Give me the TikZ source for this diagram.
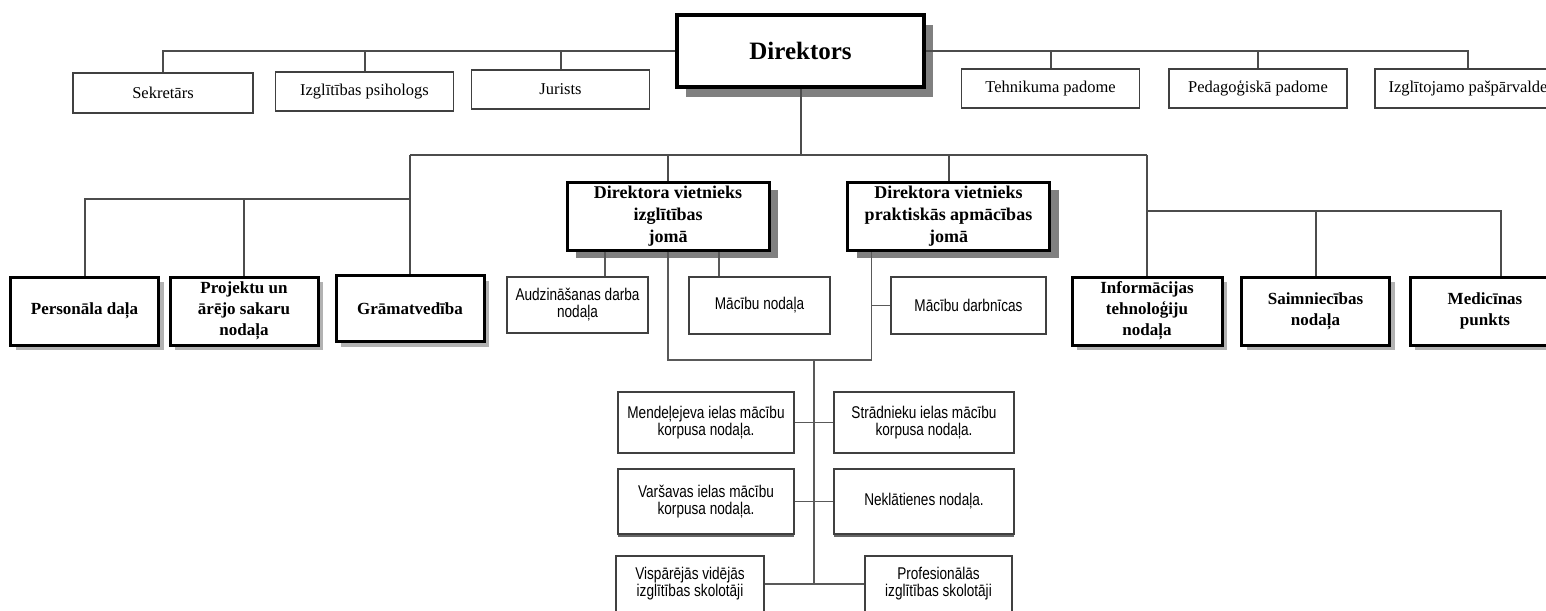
\documentclass[tikz,border=0pt]{standalone}
\usepackage{fontspec}
\setmainfont{Liberation Serif}
\newfontfamily\narrowsans[FakeStretch=0.8]{Liberation Sans}
\usetikzlibrary{calc, shadows, positioning}

\begin{document}
\begin{tikzpicture}[x=1pt, y=-1pt]

% TikZ styles
\tikzset{
  chief/.style={rectangle, draw=black, line width=3.5pt, fill=white, minimum width=247pt, minimum height=72pt, font=\bfseries\fontsize{25}{30}\selectfont, drop shadow={shadow xshift=9pt, shadow yshift=-10pt, fill=black!50, opacity=1}},
  topbox/.style={rectangle, draw=black!75, line width=1.8pt, fill=white, minimum width=178pt, minimum height=39pt, font=\fontsize{16.5}{19}\selectfont},
  dept/.style={rectangle, draw=black, line width=3pt, fill=white, minimum width=148pt, minimum height=68pt, inner sep=2pt, align=center, font=\bfseries\fontsize{17}{21}\selectfont, drop shadow={shadow xshift=5pt, shadow yshift=-5pt, fill=black!30, opacity=1}},
  vice/.style={rectangle, draw=black, line width=3pt, fill=white, minimum width=202pt, minimum height=68pt, inner sep=2pt, align=center, font=\bfseries\fontsize{18}{22}\selectfont, drop shadow={shadow xshift=9pt, shadow yshift=-8pt, fill=black!50, opacity=1}},
  subbox/.style={rectangle, draw=black!75, line width=2pt, fill=white, inner sep=2pt, align=center, font=\narrowsans\fontsize{17}{17}\selectfont},
  heavybottom/.style={drop shadow={shadow xshift=0pt, shadow yshift=-3pt, fill=black!60, opacity=1}},
  link/.style={draw=black!70, line width=2pt},
  thinlink/.style={draw=black!65, line width=1.6pt}
}

\useasboundingbox (0,0) rectangle (1546,610);
\clip (0,0) rectangle (1546,610);

%==========================
% Direktors und obere Reihe
%==========================
\node[chief] (dir) at (800.5,51) {Direktors};

\node[topbox, minimum width=180pt, minimum height=40pt] (sekr) at (163,93) {Sekretārs};
\node[topbox] (psih) at (364.5,91.5) {Izglītības psihologs};
\node[topbox] (jur)  at (560.5,89.5) {Jurists};
\node[topbox] (tehn) at (1050.5,88.5) {Tehnikuma padome};
\node[topbox] (ped)  at (1258,88.5) {Pedagoģiskā padome};
\node[topbox, minimum width=186pt] (pasp) at (1468,88.5) {Izglītojamo pašpārvalde};

%==========================
% Zweite Ebene
%==========================
\node[dept] (pers) at (84.5,311) {Personāla daļa};
\node[dept] (proj) at (244,311) {Projektu un\\ārējo sakaru\\nodaļa};
\node[dept, minimum height=66pt] (gram) at (410,308.5) {Grāmatvedība};

\node[vice] (vice1) at (668,216) {Direktora vietnieks\\izglītības\\jomā};
\node[vice] (vice2) at (948.5,216) {Direktora vietnieks\\praktiskās apmācības\\jomā};

\node[dept, minimum width=150pt] (inform) at (1147,311) {Informācijas\\tehnoloģiju\\nodaļa};
\node[dept] (saimn) at (1315.5,311) {Saimniecības\\nodaļa};
\node[dept, minimum width=150pt] (medic) at (1485,311) {Medicīnas\\punkts};

% Unterabteilungen
\node[subbox, minimum width=141pt, minimum height=56pt] (audz) at (577.5,305) {Audzināšanas darba\\nodaļa};
\node[subbox, minimum width=141pt, minimum height=57pt] (mac)  at (759.5,305.5) {Mācību nodaļa};
\node[subbox, minimum width=155pt, minimum height=57pt] (darb) at (968.5,305.5) {Mācību darbnīcas};

\node[subbox, minimum width=176pt, minimum height=61pt] (mend) at (706,422.5) {Mendeļejeva ielas mācību\\korpusa nodaļa.};
\node[subbox, minimum width=180pt, minimum height=61pt, right=38pt of mend] (strad) {Strādnieku ielas mācību\\korpusa nodaļa.};
\node[subbox, heavybottom, minimum width=176pt, minimum height=65pt, below=14pt of mend] (vars) {Varšavas ielas mācību\\korpusa nodaļa.};
\node[subbox, heavybottom, minimum width=180pt, minimum height=65pt, below=14pt of strad] (nekl) {Neklātienes nodaļa.};
\node[subbox, minimum width=148pt, minimum height=56pt] (visp) at (690,584) {Vispārējās vidējās\\izglītības skolotāji};
\node[subbox, minimum width=147pt, minimum height=56pt] (prof) at (938.5,584) {Profesionālās\\izglītības skolotāji};

% Hilfspunkte
\node[coordinate] (bus) at ($(dir.south) + (0,66)$) {};
\node[coordinate] (leftbus) at ($(gram.north) + (0,-75)$) {};
\node[coordinate] (rightbus) at ($(inform.north) + (0,-65)$) {};
\node[coordinate] (ujoin) at (814,360) {};
\node[coordinate] (v2foot) at ([xshift=-77pt]vice2.south) {};

%Linien oben
\draw[link] (dir.west) -| (sekr.north);
\draw[link] (dir.west -| psih.north) -- (psih.north);
\draw[link] (dir.west -| jur.north) -- (jur.north);
\draw[link] (dir.east) -| (pasp.north);
\draw[link] (dir.east -| tehn.north) -- (tehn.north);
\draw[link] (dir.east -| ped.north) -- (ped.north);

%Linien zweite Ebene
\draw[link] (dir.south) -- (bus);
\draw[link] (bus -| gram.north) -- (bus -| inform.north);
\draw[link] (bus -| gram.north) -- (gram.north);
\draw[link] (leftbus) -| (pers.north);
\draw[link] (leftbus -| proj.north) -- (proj.north);
\draw[link] (bus -| vice1.north) -- (vice1.north);
\draw[link] (bus -| vice2.north) -- (vice2.north);
\draw[link] (bus -| inform.north) -- (inform.north);
\draw[link] (rightbus) -| ([xshift=16pt]medic.north);
\draw[link] (rightbus -| saimn.north) -- (saimn.north);

%Linien unten
\draw[thinlink] ([xshift=-63pt]vice1.south) -- ([xshift=-63pt]vice1.south |- audz.north);
\draw[thinlink] ([xshift=51pt]vice1.south) -- ([xshift=51pt]vice1.south |- mac.north);
\draw[thinlink] (vice1.south) |- (ujoin) -| (v2foot);
\draw[thinlink] (darb.west) -- (darb.west -| v2foot);
\draw[thinlink] (ujoin) -- (ujoin |- visp.east);
\draw[thinlink] (mend.east) -- (strad.west);
\draw[thinlink] (vars.east) -- (nekl.west);
\draw[thinlink] (visp.east) -- (prof.west);
\end{tikzpicture}
\end{document}
